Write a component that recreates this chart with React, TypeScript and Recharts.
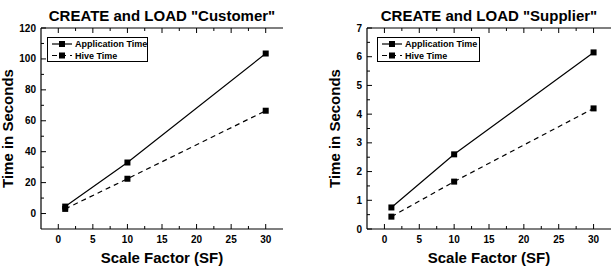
import { Label, Legend, Line, LineChart, XAxis, YAxis } from "recharts";

const scaleFactors = [1, 10, 30];
const customerAppTime = [4.5, 33, 103.5];
const customerHiveTime = [3, 22.5, 66.5];
const supplierAppTime = [0.75, 2.6, 6.15];
const supplierHiveTime = [0.43, 1.65, 4.2];

const xMajorTicks = [0, 5, 10, 15, 20, 25, 30];
const xMinorTicks = [2.5, 7.5, 12.5, 17.5, 22.5, 27.5];
const customerYMajor = [0, 20, 40, 60, 80, 100, 120];
const customerYMinor = [10, 30, 50, 70, 90, 110];
const supplierYMajor = [0, 1, 2, 3, 4, 5, 6, 7];
const supplierYMinor = [0.5, 1.5, 2.5, 3.5, 4.5, 5.5, 6.5];

const FONT = "'Liberation Sans', Arial, sans-serif";

const customerData = scaleFactors.map((sf, i) => ({
  sf,
  app: customerAppTime[i],
  hive: customerHiveTime[i],
}));
const supplierData = scaleFactors.map((sf, i) => ({
  sf,
  app: supplierAppTime[i],
  hive: supplierHiveTime[i],
}));

type Side = "bottom" | "top" | "left" | "right";

function makeTick(side: Side, majors: number[], showLabel: boolean) {
  return (props: any) => {
    const { x, y, payload } = props;
    const major = majors.includes(payload.value);
    const len = major ? 5 : 3;
    let line;
    let label = null;
    if (side === "bottom") {
      line = <line x1={x} x2={x} y1={y} y2={y - len} stroke="#000" />;
      if (major && showLabel)
        label = (
          <text x={x} y={y + 14} textAnchor="middle" fontSize={10} fontWeight={700} fill="#000">
            {payload.value}
          </text>
        );
    } else if (side === "top") {
      line = <line x1={x} x2={x} y1={y} y2={y + len} stroke="#000" />;
    } else if (side === "left") {
      line = <line x1={x} x2={x + len} y1={y} y2={y} stroke="#000" />;
      if (major && showLabel)
        label = (
          <text x={x - 5} y={y + 3.5} textAnchor="end" fontSize={10} fontWeight={700} fill="#000">
            {payload.value}
          </text>
        );
    } else {
      line = <line x1={x} x2={x - len} y1={y} y2={y} stroke="#000" />;
    }
    return (
      <g>
        {line}
        {label}
      </g>
    );
  };
}

const SquareDot = (props: any) => {
  const { cx, cy, key } = props;
  if (cx == null || cy == null) return null;
  return <rect key={key} x={cx - 3} y={cy - 3} width={6} height={6} fill="#000" />;
};

function LegendBox(props: any) {
  const { payload, boxWidth } = props;
  return (
    <div
      style={{
        width: boxWidth,
        height: 25,
        border: "1px solid #000",
        background: "#fff",
        boxSizing: "border-box",
        fontFamily: FONT,
      }}
    >
      <svg width={boxWidth - 2} height={23} style={{ display: "block" }}>
        {(payload || []).map((entry: any, i: number) => {
          const cy = 6 + i * 11.5;
          return (
            <g key={entry.value}>
              <line
                x1={4}
                x2={24}
                y1={cy}
                y2={cy}
                stroke="#000"
                strokeWidth={1.2}
                strokeDasharray={entry.payload?.strokeDasharray}
              />
              <rect x={11} y={cy - 3} width={6} height={6} fill="#000" />
              <text x={27} y={cy + 3.3} fontSize={9} fontWeight={700} fill="#000">
                {entry.value}
              </text>
            </g>
          );
        })}
      </svg>
    </div>
  );
}

function yLabelContent(cx: number) {
  return (props: any) => {
    const { viewBox } = props;
    const cy = viewBox.y + viewBox.height / 2;
    return (
      <text
        x={cx}
        y={cy}
        transform={`rotate(-90 ${cx} ${cy})`}
        textAnchor="middle"
        fontSize={15}
        fontWeight={700}
        fill="#000"
      >
        Time in Seconds
      </text>
    );
  };
}

interface PanelProps {
  title: string;
  data: { sf: number; app: number; hive: number }[];
  width: number;
  yAxisWidth: number;
  marginRight: number;
  yDomain: [number, number];
  yMajor: number[];
  yMinor: number[];
  yLabelX: number;
  legendLeft: number;
  legendWidth: number;
}

function Panel(p: PanelProps) {
  const yTicks = [...p.yMajor, ...p.yMinor].sort((a, b) => a - b);
  const xTicks = [...xMajorTicks, ...xMinorTicks].sort((a, b) => a - b);
  return (
    <LineChart
      width={p.width}
      height={279}
      data={p.data}
      margin={{ top: 0, right: p.marginRight, bottom: 0, left: 0 }}
    >
      <XAxis
        xAxisId="b"
        dataKey="sf"
        type="number"
        domain={[-2.5, 32.5]}
        ticks={xTicks}
        interval={0}
        height={50}
        tickSize={0}
        tickMargin={0}
        tickLine={false}
        axisLine={{ stroke: "#000", strokeWidth: 1.2 }}
        tick={makeTick("bottom", xMajorTicks, true)}
      >
        <Label value="Scale Factor (SF)" position="insideBottom" offset={16} fontSize={15} fontWeight={700} fill="#000" />
      </XAxis>
      <XAxis
        xAxisId="t"
        dataKey="sf"
        type="number"
        orientation="top"
        domain={[-2.5, 32.5]}
        ticks={xTicks}
        interval={0}
        height={28}
        tickSize={0}
        tickMargin={0}
        tickLine={false}
        axisLine={{ stroke: "#000", strokeWidth: 1.2 }}
        tick={makeTick("top", xMajorTicks, false)}
      >
        <Label value={p.title} position="insideBottom" offset={7} fontSize={15} fontWeight={700} fill="#000" />
      </XAxis>
      <YAxis
        yAxisId="l"
        type="number"
        domain={p.yDomain}
        ticks={yTicks}
        interval={0}
        width={p.yAxisWidth}
        tickSize={0}
        tickMargin={0}
        tickLine={false}
        axisLine={{ stroke: "#000", strokeWidth: 1.2 }}
        tick={makeTick("left", p.yMajor, true)}
      >
        <Label content={yLabelContent(p.yLabelX)} />
      </YAxis>
      <YAxis
        yAxisId="r"
        orientation="right"
        type="number"
        domain={p.yDomain}
        ticks={yTicks}
        interval={0}
        width={0}
        tickSize={0}
        tickMargin={0}
        tickLine={false}
        axisLine={{ stroke: "#000", strokeWidth: 1.2 }}
        tick={makeTick("right", p.yMajor, false)}
      />
      <Legend
        layout="horizontal"
        verticalAlign="middle"
        align="center"
        wrapperStyle={{ left: p.legendLeft, top: 37, width: p.legendWidth, height: 25 }}
        content={(props: any) => <LegendBox {...props} boxWidth={p.legendWidth} />}
      />
      <Line
        xAxisId="b"
        yAxisId="l"
        type="linear"
        dataKey="app"
        name="Application Time"
        stroke="#000"
        strokeWidth={1.2}
        dot={SquareDot}
        activeDot={false}
        isAnimationActive={false}
      />
      <Line
        xAxisId="b"
        yAxisId="l"
        type="linear"
        dataKey="hive"
        name="Hive Time"
        stroke="#000"
        strokeWidth={1.2}
        strokeDasharray="5 4"
        dot={SquareDot}
        activeDot={false}
        isAnimationActive={false}
      />
    </LineChart>
  );
}

export default function App() {
  return (
    <div
      style={{
        position: "absolute",
        left: 0,
        top: 0,
        width: 615,
        height: 279,
        background: "#fff",
        fontFamily: FONT,
      }}
    >
      <div style={{ position: "absolute", left: 0, top: 0 }}>
        <Panel
          title={'CREATE and LOAD "Customer"'}
          data={customerData}
          width={305}
          yAxisWidth={41}
          marginRight={22}
          yDomain={[-10, 120]}
          yMajor={customerYMajor}
          yMinor={customerYMinor}
          yLabelX={13}
          legendLeft={47}
          legendWidth={101}
        />
      </div>
      <div style={{ position: "absolute", left: 305, top: 0 }}>
        <Panel
          title={'CREATE and LOAD "Supplier"'}
          data={supplierData}
          width={310}
          yAxisWidth={62}
          marginRight={4}
          yDomain={[0, 7]}
          yMajor={supplierYMajor}
          yMinor={supplierYMinor}
          yLabelX={35}
          legendLeft={72}
          legendWidth={103}
        />
      </div>
    </div>
  );
}
